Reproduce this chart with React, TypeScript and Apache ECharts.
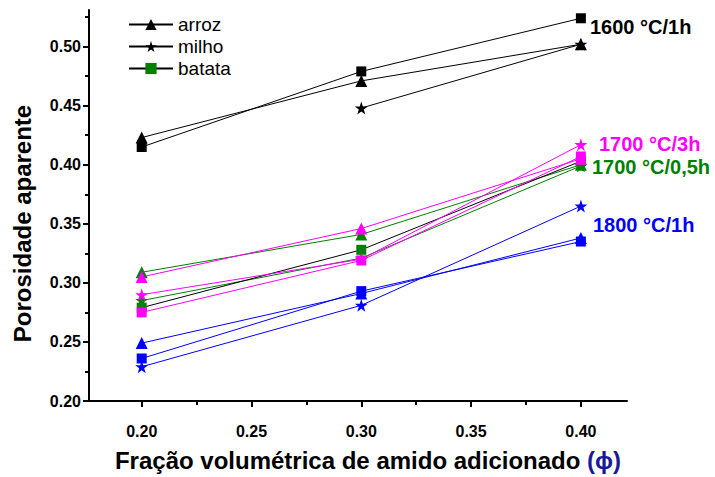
import React, { useEffect, useRef } from "react";
import * as echarts from "echarts";

const xVals = [0.2, 0.3, 0.4];

// 1600 °C/1h (black)
const arroz1600 = [0.423, 0.471, 0.502];
const milho1600 = [null, 0.448, 0.502];
const batata1600 = [0.415, 0.479, 0.524];
// 1700 °C/0,5h (green)
const arroz1700b = [0.309, 0.341, 0.4];
const milho1700b = [0.285, 0.321, 0.399];
const batata1700b = [0.279, 0.328, 0.403];
// 1700 °C/3h (magenta)
const arroz1700a = [0.305, 0.346, 0.405];
const milho1700a = [0.29, 0.32, 0.417];
const batata1700a = [0.275, 0.319, 0.407];
// 1800 °C/1h (blue)
const arroz1800 = [0.249, 0.291, 0.338];
const batata1800 = [0.236, 0.293, 0.335];
const milho1800 = [0.229, 0.281, 0.365];

const xTicks = [0.2, 0.25, 0.3, 0.35, 0.4];
const xMinor = [0.225, 0.275, 0.325, 0.375];
const yTicks = [0.2, 0.25, 0.3, 0.35, 0.4, 0.45, 0.5];
const yMinor = [0.225, 0.275, 0.325, 0.375, 0.425, 0.475, 0.525];

const legendNames = ["arroz", "milho", "batata"];

const STAR =
  "path://M50,0 L61.2,34.5 L97.6,34.5 L68.2,55.9 L79.4,90.5 L50,69.1 L20.6,90.5 L31.8,55.9 L2.4,34.5 L38.8,34.5 Z";

const FONT = "Arial, 'Liberation Sans', Helvetica, sans-serif";

const symbolFor: Record<string, any> = {
  arroz: { symbol: "triangle", size: 12 },
  milho: { symbol: STAR, size: 13 },
  batata: { symbol: "rect", size: 10 },
};

function mk(name: string, kind: string, vals: (number | null)[], lineColor: string, markColor: string) {
  const data = xVals
    .map((x, i) => (vals[i] == null ? null : [x, vals[i]]))
    .filter((d) => d !== null);
  return {
    type: "line",
    name,
    data,
    symbol: symbolFor[kind].symbol,
    symbolSize: symbolFor[kind].size,
    showAllSymbol: true,
    lineStyle: { color: lineColor, width: 1 },
    itemStyle: { color: markColor, borderWidth: 0 },
    emphasis: { disabled: true },
    z: 3,
  };
}

export default function App() {
  const ref = useRef<HTMLDivElement>(null);
  useEffect(() => {
    const chart = echarts.init(ref.current!, null, { renderer: "svg" });
    const series: any[] = [
      mk("a1600", "arroz", arroz1600, "#000", "#000"),
      mk("m1600", "milho", milho1600, "#000", "#000"),
      mk("b1600", "batata", batata1600, "#000", "#000"),
      mk("a1700b", "arroz", arroz1700b, "#008000", "#008000"),
      mk("m1700b", "milho", milho1700b, "#008000", "#008000"),
      mk("b1700b", "batata", batata1700b, "#000", "#008000"),
      mk("a1700a", "arroz", arroz1700a, "#ff00ff", "#ff00ff"),
      mk("m1700a", "milho", milho1700a, "#ff00ff", "#ff00ff"),
      mk("b1700a", "batata", batata1700a, "#ff00ff", "#ff00ff"),
      mk("a1800", "arroz", arroz1800, "#0000ff", "#0000ff"),
      mk("b1800", "batata", batata1800, "#0000ff", "#0000ff"),
      mk("m1800", "milho", milho1800, "#0000ff", "#0000ff"),
      // legend-only series
      { type: "line", name: "arroz", data: [], symbol: "triangle", symbolSize: 12, lineStyle: { color: "#000", width: 1 }, itemStyle: { color: "#000" } },
      { type: "line", name: "milho", data: [], symbol: STAR, symbolSize: 12, lineStyle: { color: "#000", width: 1 }, itemStyle: { color: "#000" } },
      { type: "line", name: "batata", data: [], symbol: "rect", symbolSize: 10, lineStyle: { color: "#000", width: 1 }, itemStyle: { color: "#008000" } },
    ];

    const axisCommon = {
      axisLine: { show: true, lineStyle: { color: "#000", width: 2 } },
      splitLine: { show: false },
    };

    chart.setOption({
      animation: false,
      backgroundColor: "#fff",
      textStyle: { fontFamily: FONT },
      grid: { left: 89, right: 88, top: 10, bottom: 73, containLabel: false },
      legend: {
        data: legendNames,
        orient: "vertical",
        left: 123,
        top: 10,
        itemWidth: 44,
        itemHeight: 14,
        itemGap: 3,
        selectedMode: false,
        textStyle: { fontSize: 19, color: "#000", fontFamily: FONT },
      },
      xAxis: [
        {
          type: "value",
          min: 0.176,
          max: 0.421,
          ...axisCommon,
          axisTick: { show: true, customValues: xTicks, length: 6, lineStyle: { color: "#000", width: 2 } },
          axisLabel: {
            customValues: xTicks,
            formatter: (v: number) => v.toFixed(2),
            fontSize: 16,
            fontWeight: "bold",
            color: "#000",
            margin: 22,
            fontFamily: FONT,
          },
          name: "Fração volumétrica de amido adicionado {p|(ϕ)}",
          nameLocation: "middle",
          nameGap: 47,
          nameTextStyle: {
            fontSize: 24,
            fontWeight: "bold",
            color: "#000",
            fontFamily: FONT,
            padding: [0, 0, 0, 20],
            rich: { p: { fontSize: 24, fontWeight: "bold", color: "#1a1a9a", fontFamily: FONT } },
          },
        },
        {
          type: "value",
          min: 0.176,
          max: 0.421,
          position: "bottom",
          axisLine: { show: false },
          splitLine: { show: false },
          axisLabel: { show: false },
          axisTick: { show: true, customValues: xMinor, length: 4, lineStyle: { color: "#000", width: 2 } },
        },
      ],
      yAxis: [
        {
          type: "value",
          min: 0.2,
          max: 0.531,
          ...axisCommon,
          axisTick: { show: true, customValues: yTicks, length: 6, lineStyle: { color: "#000", width: 2 } },
          axisLabel: {
            customValues: yTicks,
            formatter: (v: number) => v.toFixed(2),
            fontSize: 16,
            fontWeight: "bold",
            color: "#000",
            margin: 8,
            fontFamily: FONT,
          },
          name: "Porosidade aparente",
          nameLocation: "middle",
          nameGap: 55,
          nameTextStyle: {
            fontSize: 24,
            fontWeight: "bold",
            color: "#000",
            fontFamily: FONT,
            padding: [0, 36, 0, 0],
          },
        },
        {
          type: "value",
          min: 0.2,
          max: 0.531,
          position: "left",
          axisLine: { show: false },
          splitLine: { show: false },
          axisLabel: { show: false },
          axisTick: { show: true, customValues: yMinor, length: 4, lineStyle: { color: "#000", width: 2 } },
        },
      ],
      graphic: [
        { type: "text", left: 590, top: 17, style: { text: "1600 °C/1h", fill: "#000", font: `bold 20px ${FONT}` } },
        { type: "text", left: 599, top: 134, style: { text: "1700 °C/3h", fill: "#ff00ff", font: `bold 20px ${FONT}` } },
        { type: "text", left: 592, top: 157, style: { text: "1700 °C/0,5h", fill: "#008000", font: `bold 20px ${FONT}` } },
        { type: "text", left: 593, top: 215, style: { text: "1800 °C/1h", fill: "#0000ff", font: `bold 20px ${FONT}` } },
      ],
      series,
    });
    return () => chart.dispose();
  }, []);
  return (
    <div
      ref={ref}
      style={{ position: "fixed", left: 0, top: 0, width: 715, height: 477, background: "#fff" }}
    />
  );
}
